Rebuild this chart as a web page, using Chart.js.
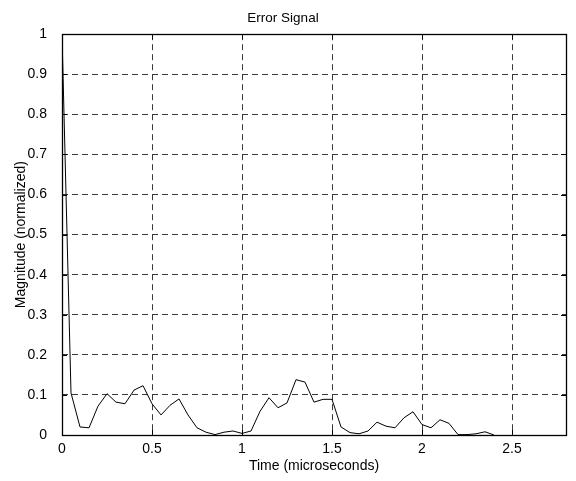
<!DOCTYPE html>
<html>
<head>
<meta charset="utf-8">
<script src="https://cdn.jsdelivr.net/npm/chart.js@4"></script>
<style>
  html, body { margin: 0; padding: 0; background: #fff; }
  #wrap { width: 576px; height: 481px; }
</style>
</head>
<body>
<div id="wrap"><canvas id="chartError"></canvas></div>
<script>
  // data (time step 0.05 us)
  const timeUs = [0, 0.05, 0.1, 0.15, 0.2, 0.25, 0.3, 0.35, 0.4, 0.45,
    0.5, 0.55, 0.6, 0.65, 0.7, 0.75, 0.8, 0.85, 0.9, 0.95,
    1.0, 1.05, 1.1, 1.15, 1.2, 1.25, 1.3, 1.35, 1.4, 1.45,
    1.5, 1.55, 1.6, 1.65, 1.7, 1.75, 1.8, 1.85, 1.9, 1.95,
    2.0, 2.05, 2.1, 2.15, 2.2, 2.25, 2.3, 2.35, 2.4];
  const magnitude = [1.0, 0.105, 0.02, 0.018, 0.072, 0.103, 0.082, 0.078, 0.112, 0.123,
    0.078, 0.05, 0.074, 0.09, 0.05, 0.018, 0.007, 0.001, 0.007, 0.01,
    0.004, 0.01, 0.059, 0.093, 0.068, 0.08, 0.138, 0.132, 0.082, 0.089,
    0.089, 0.02, 0.006, 0.003, 0.01, 0.032, 0.022, 0.018, 0.043, 0.058,
    0.026, 0.018, 0.038, 0.029, 0.001, 0.001, 0.003, 0.008, 0.0];
  const xTicks = [0, 0.5, 1, 1.5, 2, 2.5];
  const yTicks = [0, 0.1, 0.2, 0.3, 0.4, 0.5, 0.6, 0.7, 0.8, 0.9, 1];

  const FONT = 'Liberation Sans, Arial, sans-serif';

  // box round the axes + inward tick marks, matlab style
  const boxPlugin = {
    id: 'box',
    afterDatasetsDraw(chart) {
      const { ctx, chartArea: a, scales } = chart;
      ctx.save();
      ctx.strokeStyle = '#000';
      ctx.lineWidth = 1;
      ctx.beginPath();
      xTicks.forEach(v => {
        const x = Math.round(scales.x.getPixelForValue(v)) + 0.5;
        ctx.moveTo(x, a.bottom); ctx.lineTo(x, a.bottom - 5);
        ctx.moveTo(x, a.top); ctx.lineTo(x, a.top + 5);
      });
      yTicks.forEach(v => {
        const y = Math.round(scales.y.getPixelForValue(v)) + 0.5;
        ctx.moveTo(a.left, y); ctx.lineTo(a.left + 5, y);
        ctx.moveTo(a.right, y); ctx.lineTo(a.right - 5, y);
      });
      ctx.stroke();
      ctx.lineWidth = 1.3;
      ctx.strokeRect(Math.round(a.left) + 0.5, Math.round(a.top) + 0.5,
        Math.round(a.right - a.left), Math.round(a.bottom - a.top));
      ctx.restore();
    }
  };

  new Chart(document.getElementById('chartError').getContext('2d'), {
    type: 'line',
    data: {
      datasets: [{
        data: timeUs.map((t, i) => ({ x: t, y: magnitude[i] })),
        borderColor: '#000',
        borderWidth: 1,
        pointRadius: 0,
        tension: 0,
        fill: false
      }]
    },
    options: {
      responsive: true,
      maintainAspectRatio: false,
      animation: false,
      layout: { padding: { left: 0, right: 10, top: 0, bottom: 0 } },
      plugins: {
        legend: { display: false },
        tooltip: { enabled: false },
        title: {
          display: true,
          text: 'Error Signal',
          color: '#000',
          font: { family: FONT, size: 13.5, weight: 'normal' },
          padding: { top: 10, bottom: 8 }
        }
      },
      scales: {
        x: {
          type: 'linear',
          min: 0,
          max: 2.8,
          afterBuildTicks: s => { s.ticks = xTicks.map(v => ({ value: v })); },
          afterFit: s => { s.height = 46; },
          grid: { color: '#3a3a3a', drawTicks: false, lineWidth: 1 },
          border: { display: false, dash: [6, 4] },
          ticks: {
            color: '#000', padding: 6,
            font: { family: FONT, size: 14 },
            callback: v => String(v)
          },
          title: {
            display: true, text: 'Time (microseconds)', color: '#000',
            font: { family: FONT, size: 14 }, padding: { top: 6, bottom: 6 }
          }
        },
        y: {
          type: 'linear',
          min: 0,
          max: 1,
          afterBuildTicks: s => { s.ticks = yTicks.map(v => ({ value: v })); },
          afterFit: s => { s.width = 62; },
          grid: { color: '#3a3a3a', drawTicks: false, lineWidth: 1 },
          border: { display: false, dash: [6, 4] },
          ticks: {
            color: '#000', padding: 15,
            font: { family: FONT, size: 14 },
            callback: v => String(v)
          },
          title: {
            display: true, text: 'Magnitude (normalized)', color: '#000',
            font: { family: FONT, size: 14 }, padding: { top: 13, bottom: 13 }
          }
        }
      }
    },
    plugins: [boxPlugin]
  });
</script>
</body>
</html>
